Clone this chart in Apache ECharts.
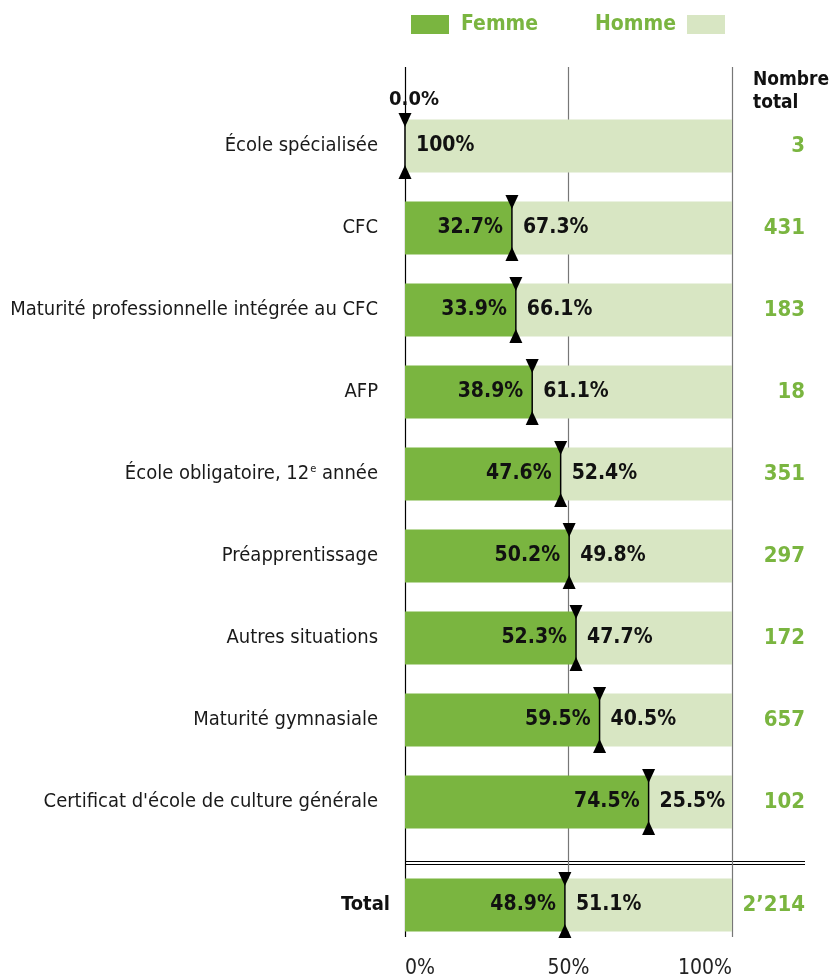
<!DOCTYPE html>
<html>
<head>
<meta charset="utf-8">
<script src="https://cdn.jsdelivr.net/npm/echarts@6/dist/echarts.min.js"></script>
<style>
  html, body { margin: 0; padding: 0; background: #fff; }
  #chart { width: 830px; height: 979px; }
</style>
</head>
<body>
<div id="chart"></div>
<script>
var categories = ['École spécialisée', 'CFC', 'Maturité professionnelle intégrée au CFC', 'AFP',
  'École obligatoire, 12e année', 'Préapprentissage', 'Autres situations', 'Maturité gymnasiale',
  "Certificat d'école de culture générale"]
var femme = [0, 32.7, 33.9, 38.9, 47.6, 50.2, 52.3, 59.5, 74.5]
var homme = [100, 67.3, 66.1, 61.1, 52.4, 49.8, 47.7, 40.5, 25.5]
var counts = ['3', '431', '183', '18', '351', '297', '172', '657', '102']

var totalCategory = ['Total']
var totalFemme = [48.9]
var totalHomme = [51.1]
var totalCount = ['2’214']

var xTicks = ['0%', '50%', '100%']

var FONT = '"DejaVu Sans Condensed", sans-serif'
var DARK = '#7ab540'
var LIGHT = '#d8e6c3'

var chart = echarts.init(document.getElementById('chart'), null, { renderer: 'canvas' })

function pct(v) {
  if (v === 0) return ''
  return v === 100 ? '100%' : v.toFixed(1) + '%'
}

// triangles + dividing line at the femme/homme boundary
function markerSeries(values, xi, yi, withZeroLabel) {
  var down = values.map(function(v, i) {
    if (withZeroLabel && i === 0) {
      return {
        value: [v, i],
        label: {
          show: true, position: 'top', distance: 3, offset: [9, 0],
          formatter: v.toFixed(1) + '%',
          fontFamily: FONT, fontWeight: 'bold', fontSize: 20, color: '#111'
        }
      }
    }
    return [v, i]
  })
  var pts = values.map(function(v, i) { return [v, i] })
  return [
    {
      type: 'scatter', xAxisIndex: xi, yAxisIndex: yi, z: 6, silent: true,
      symbol: 'triangle', symbolSize: [13, 14], symbolRotate: 180, symbolOffset: [0, -26],
      itemStyle: { color: '#000', opacity: 1 }, data: down
    },
    {
      type: 'scatter', xAxisIndex: xi, yAxisIndex: yi, z: 6, silent: true,
      symbol: 'triangle', symbolSize: [13, 14], symbolOffset: [0, 26],
      itemStyle: { color: '#000', opacity: 1 }, data: pts
    },
    {
      type: 'scatter', xAxisIndex: xi, yAxisIndex: yi, z: 5, silent: true,
      symbol: 'rect', symbolSize: [1.5, 53],
      itemStyle: { color: '#000', opacity: 1 }, data: pts
    }
  ]
}

function barPair(fData, hData, xi, yi) {
  return [
    {
      name: 'Femme', type: 'bar', stack: 's' + xi, xAxisIndex: xi, yAxisIndex: yi,
      barWidth: 53, itemStyle: { color: DARK },
      label: {
        show: true, position: 'insideRight', distance: 9,
        formatter: function(p) { return pct(p.value) },
        fontFamily: FONT, fontWeight: 'bold', fontSize: 21, color: '#111'
      },
      data: fData
    },
    {
      name: 'Homme', type: 'bar', stack: 's' + xi, xAxisIndex: xi, yAxisIndex: yi,
      barWidth: 53, itemStyle: { color: LIGHT },
      label: {
        show: true, position: 'insideLeft', distance: 11,
        formatter: function(p) { return pct(p.value) },
        fontFamily: FONT, fontWeight: 'bold', fontSize: 21, color: '#111'
      },
      data: hData
    }
  ]
}

var hiddenX = { type: 'value', min: 0, max: 100, show: false }

var option = {
  animation: false,
  textStyle: { fontFamily: FONT },
  title: {
    text: 'Nombre\ntotal', left: 748, top: 64,
    textStyle: { fontFamily: FONT, fontWeight: 'bold', fontSize: 19, color: '#111', lineHeight: 23 }
  },
  legend: [
    {
      data: ['Femme'], left: 406, top: 9, itemWidth: 38, itemHeight: 19, icon: 'rect',
      textStyle: { fontFamily: FONT, fontWeight: 'bold', fontSize: 21, color: DARK, padding: [0, 0, 0, 7] }
    },
    {
      data: ['Homme'], left: 590, top: 9, align: 'right', itemWidth: 38, itemHeight: 19, icon: 'rect',
      textStyle: { fontFamily: FONT, fontWeight: 'bold', fontSize: 21, color: DARK, padding: [0, 6, 0, 0] }
    }
  ],
  grid: [
    { left: 405, right: 98, top: 105, height: 738 },
    { left: 405, right: 98, top: 868, height: 74 },
    { left: 405, right: 98, top: 67, bottom: 42 }
  ],
  xAxis: [
    Object.assign({ gridIndex: 0 }, hiddenX),
    Object.assign({ gridIndex: 1 }, hiddenX),
    {
      gridIndex: 2, type: 'value', min: 0, max: 100, interval: 50,
      axisLine: { show: false }, axisTick: { show: false },
      splitLine: { show: true, lineStyle: { color: ['#000', '#777', '#777'], width: 1.2 } },
      axisLabel: {
        margin: 21, fontFamily: FONT, fontSize: 21, color: '#222',
        alignMinLabel: 'left', alignMaxLabel: 'right',
        formatter: function(v) { return xTicks[v / 50] }
      }
    }
  ],
  yAxis: [
    {
      gridIndex: 0, type: 'category', inverse: true, data: categories,
      axisLine: { show: false }, axisTick: { show: false },
      axisLabel: {
        margin: 27, fontFamily: FONT, fontSize: 20, color: '#1a1a1a',
        formatter: function(v) { return v.replace('12e', '12{sup|e}') },
        rich: { sup: { fontSize: 11, fontFamily: FONT, color: '#1a1a1a', padding: [0, 0, 9, 1] } }
      }
    },
    {
      gridIndex: 0, type: 'category', inverse: true, position: 'right', data: counts,
      axisLine: { show: false }, axisTick: { show: false },
      axisLabel: { margin: 73, align: 'right', fontFamily: FONT, fontWeight: 'bold', fontSize: 22, color: DARK }
    },
    {
      gridIndex: 1, type: 'category', data: totalCategory,
      axisLine: { show: false }, axisTick: { show: false },
      axisLabel: { margin: 15, fontFamily: FONT, fontWeight: 'bold', fontSize: 20, color: '#111' }
    },
    {
      gridIndex: 1, type: 'category', position: 'right', data: totalCount,
      axisLine: { show: false }, axisTick: { show: false },
      axisLabel: { margin: 73, align: 'right', fontFamily: FONT, fontWeight: 'bold', fontSize: 22, color: DARK }
    },
    { gridIndex: 2, type: 'value', show: false, min: 0, max: 1 }
  ],
  graphic: [
    { type: 'line', shape: { x1: 405, y1: 861.5, x2: 805, y2: 861.5 }, style: { stroke: '#000', lineWidth: 1 } },
    { type: 'line', shape: { x1: 405, y1: 864.5, x2: 805, y2: 864.5 }, style: { stroke: '#000', lineWidth: 1 } }
  ],
  series: []
    .concat(barPair(femme, homme, 0, 0))
    .concat(barPair(totalFemme, totalHomme, 1, 2))
    .concat(markerSeries(femme, 0, 0, true))
    .concat(markerSeries(totalFemme, 1, 2, false))
}

chart.setOption(option)
</script>
</body>
</html>
